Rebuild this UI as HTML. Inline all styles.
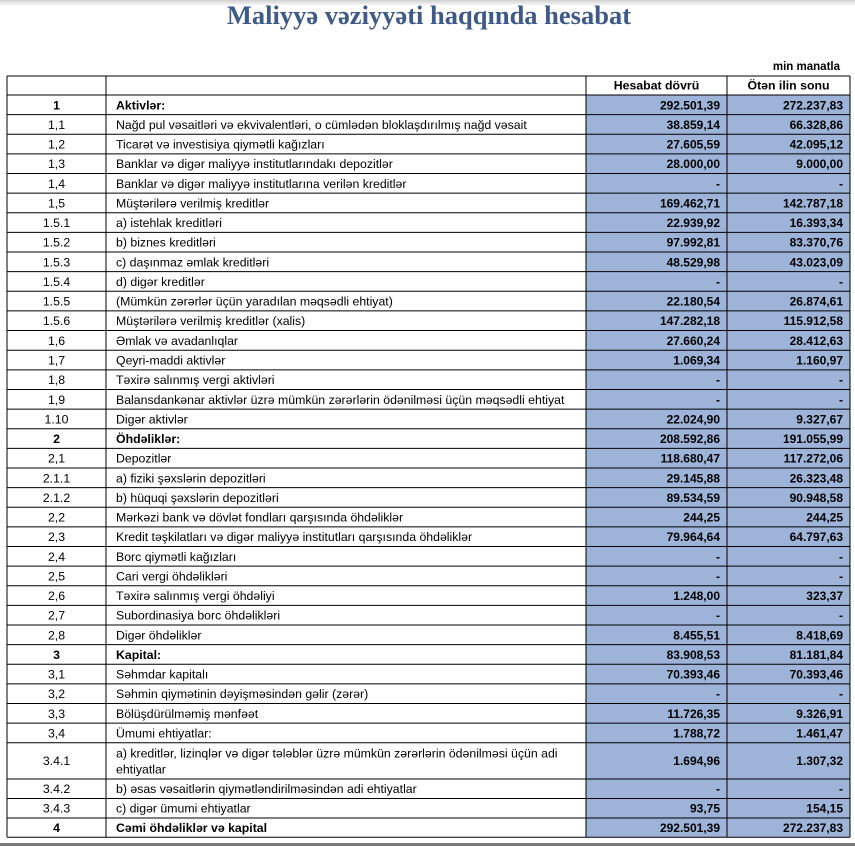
<!DOCTYPE html>
<html>
<head>
<meta charset="utf-8">
<style>
html,body{margin:0;padding:0;background:#fff;}
svg{display:block;}
text{font-family:"Liberation Sans",Arial,sans-serif;font-size:12.3px;fill:#000;}
.c{text-anchor:middle;}
.r{text-anchor:end;font-weight:bold;font-size:12px;}
.b{font-weight:bold;}
.t{font-family:"Liberation Serif","Times New Roman",serif;font-size:26.5px;font-weight:bold;fill:#3f5a88;text-anchor:middle;}
</style>
</head>
<body>
<svg width="855" height="846" viewBox="0 0 855 846" xmlns="http://www.w3.org/2000/svg">
<defs>
<linearGradient id="tg" x1="0" y1="0" x2="0" y2="1">
<stop offset="0" stop-color="#d0d0d0"/>
<stop offset="1" stop-color="#ffffff"/>
</linearGradient>
</defs>
<rect x="0" y="0" width="855" height="846" fill="#fff"/>
<rect x="0" y="0" width="855" height="6" fill="url(#tg)"/>
<text class="t" x="429" y="24">Maliyyə vəziyyəti haqqında hesabat</text>
<text class="r" x="840" y="70" style="font-size:11.5px">min manatla</text>

<rect x="586" y="95" width="264" height="742.3" fill="#9db3d8"/>

<g stroke="#000" stroke-width="1">
<line x1="7" x2="850" y1="76" y2="76"/>
<line x1="7" x2="850" y1="95" y2="95"/>
<line x1="7" x2="850" y1="114.63" y2="114.63"/>
<line x1="7" x2="850" y1="134.26" y2="134.26"/>
<line x1="7" x2="850" y1="153.89" y2="153.89"/>
<line x1="7" x2="850" y1="173.52" y2="173.52"/>
<line x1="7" x2="850" y1="193.15" y2="193.15"/>
<line x1="7" x2="850" y1="212.78" y2="212.78"/>
<line x1="7" x2="850" y1="232.41" y2="232.41"/>
<line x1="7" x2="850" y1="252.04" y2="252.04"/>
<line x1="7" x2="850" y1="271.67" y2="271.67"/>
<line x1="7" x2="850" y1="291.3" y2="291.3"/>
<line x1="7" x2="850" y1="310.93" y2="310.93"/>
<line x1="7" x2="850" y1="330.56" y2="330.56"/>
<line x1="7" x2="850" y1="350.19" y2="350.19"/>
<line x1="7" x2="850" y1="369.82" y2="369.82"/>
<line x1="7" x2="850" y1="389.45" y2="389.45"/>
<line x1="7" x2="850" y1="409.08" y2="409.08"/>
<line x1="7" x2="850" y1="428.71" y2="428.71"/>
<line x1="7" x2="850" y1="448.34" y2="448.34"/>
<line x1="7" x2="850" y1="467.97" y2="467.97"/>
<line x1="7" x2="850" y1="487.6" y2="487.6"/>
<line x1="7" x2="850" y1="507.23" y2="507.23"/>
<line x1="7" x2="850" y1="526.86" y2="526.86"/>
<line x1="7" x2="850" y1="546.49" y2="546.49"/>
<line x1="7" x2="850" y1="566.12" y2="566.12"/>
<line x1="7" x2="850" y1="585.75" y2="585.75"/>
<line x1="7" x2="850" y1="605.38" y2="605.38"/>
<line x1="7" x2="850" y1="625.01" y2="625.01"/>
<line x1="7" x2="850" y1="644.64" y2="644.64"/>
<line x1="7" x2="850" y1="664.27" y2="664.27"/>
<line x1="7" x2="850" y1="683.9" y2="683.9"/>
<line x1="7" x2="850" y1="703.53" y2="703.53"/>
<line x1="7" x2="850" y1="723.16" y2="723.16"/>
<line x1="7" x2="850" y1="742.79" y2="742.79"/>
<line x1="7" x2="850" y1="779" y2="779"/>
<line x1="7" x2="850" y1="798.5" y2="798.5"/>
<line x1="7" x2="850" y1="818" y2="818"/>
<line x1="7" x2="850" y1="837.3" y2="837.3"/>
<line x1="7" x2="7" y1="76" y2="837.3"/>
<line x1="106" x2="106" y1="76" y2="837.3"/>
<line x1="586" x2="586" y1="76" y2="837.3"/>
<line x1="727" x2="727" y1="76" y2="837.3"/>
<line x1="850" x2="850" y1="76" y2="837.3"/>
</g>

<rect x="0" y="843" width="855" height="3" fill="#7a7a7a"/>

<text class="c b" x="656.5" y="89.5">Hesabat dövrü</text>
<text class="c b" x="788.5" y="89.5">Ötən ilin sonu</text>

<g>
<text class="c b" x="56.5" y="109.3">1</text><text class="b" x="116" y="109.3">Aktivlər:</text><text class="r" x="720" y="109.3">292.501,39</text><text class="r" x="843" y="109.3">272.237,83</text>
<text class="c" x="56.5" y="128.9">1,1</text><text x="116" y="128.9">Nağd pul vəsaitləri və  ekvivalentləri, o cümlədən bloklaşdırılmış nağd vəsait</text><text class="r" x="720" y="128.9">38.859,14</text><text class="r" x="843" y="128.9">66.328,86</text>
<text class="c" x="56.5" y="148.6">1,2</text><text x="116" y="148.6">Ticarət və investisiya qiymətli kağızları</text><text class="r" x="720" y="148.6">27.605,59</text><text class="r" x="843" y="148.6">42.095,12</text>
<text class="c" x="56.5" y="168.2">1,3</text><text x="116" y="168.2">Banklar və digər maliyyə institutlarındakı depozitlər</text><text class="r" x="720" y="168.2">28.000,00</text><text class="r" x="843" y="168.2">9.000,00</text>
<text class="c" x="56.5" y="187.8">1,4</text><text x="116" y="187.8">Banklar və digər maliyyə institutlarına verilən kreditlər</text><text class="r" x="720" y="187.8">-</text><text class="r" x="843" y="187.8">-</text>
<text class="c" x="56.5" y="207.5">1,5</text><text x="116" y="207.5">Müştərilərə verilmiş kreditlər</text><text class="r" x="720" y="207.5">169.462,71</text><text class="r" x="843" y="207.5">142.787,18</text>
<text class="c" x="56.5" y="227.1">1.5.1</text><text x="116" y="227.1">a) istehlak kreditləri</text><text class="r" x="720" y="227.1">22.939,92</text><text class="r" x="843" y="227.1">16.393,34</text>
<text class="c" x="56.5" y="246.7">1.5.2</text><text x="116" y="246.7">b) biznes kreditləri</text><text class="r" x="720" y="246.7">97.992,81</text><text class="r" x="843" y="246.7">83.370,76</text>
<text class="c" x="56.5" y="266.3">1.5.3</text><text x="116" y="266.3">c) daşınmaz əmlak kreditləri</text><text class="r" x="720" y="266.3">48.529,98</text><text class="r" x="843" y="266.3">43.023,09</text>
<text class="c" x="56.5" y="286">1.5.4</text><text x="116" y="286">d) digər kreditlər</text><text class="r" x="720" y="286">-</text><text class="r" x="843" y="286">-</text>
<text class="c" x="56.5" y="305.6">1.5.5</text><text x="116" y="305.6">(Mümkün zərərlər üçün yaradılan məqsədli ehtiyat)</text><text class="r" x="720" y="305.6">22.180,54</text><text class="r" x="843" y="305.6">26.874,61</text>
<text class="c" x="56.5" y="325.2">1.5.6</text><text x="116" y="325.2">Müştərilərə verilmiş kreditlər (xalis)</text><text class="r" x="720" y="325.2">147.282,18</text><text class="r" x="843" y="325.2">115.912,58</text>
<text class="c" x="56.5" y="344.9">1,6</text><text x="116" y="344.9">Əmlak və avadanlıqlar</text><text class="r" x="720" y="344.9">27.660,24</text><text class="r" x="843" y="344.9">28.412,63</text>
<text class="c" x="56.5" y="364.5">1,7</text><text x="116" y="364.5">Qeyri-maddi aktivlər</text><text class="r" x="720" y="364.5">1.069,34</text><text class="r" x="843" y="364.5">1.160,97</text>
<text class="c" x="56.5" y="384.1">1,8</text><text x="116" y="384.1">Təxirə salınmış vergi aktivləri</text><text class="r" x="720" y="384.1">-</text><text class="r" x="843" y="384.1">-</text>
<text class="c" x="56.5" y="403.8">1,9</text><text x="116" y="403.8">Balansdankənar aktivlər üzrə mümkün zərərlərin ödənilməsi üçün məqsədli ehtiyat</text><text class="r" x="720" y="403.8">-</text><text class="r" x="843" y="403.8">-</text>
<text class="c" x="56.5" y="423.4">1.10</text><text x="116" y="423.4">Digər aktivlər</text><text class="r" x="720" y="423.4">22.024,90</text><text class="r" x="843" y="423.4">9.327,67</text>
<text class="c b" x="56.5" y="443">2</text><text class="b" x="116" y="443">Öhdəliklər:</text><text class="r" x="720" y="443">208.592,86</text><text class="r" x="843" y="443">191.055,99</text>
<text class="c" x="56.5" y="462.6">2,1</text><text x="116" y="462.6">Depozitlər</text><text class="r" x="720" y="462.6">118.680,47</text><text class="r" x="843" y="462.6">117.272,06</text>
<text class="c" x="56.5" y="482.3">2.1.1</text><text x="116" y="482.3">a) fiziki şəxslərin depozitləri</text><text class="r" x="720" y="482.3">29.145,88</text><text class="r" x="843" y="482.3">26.323,48</text>
<text class="c" x="56.5" y="501.9">2.1.2</text><text x="116" y="501.9">b) hüquqi şəxslərin depozitləri</text><text class="r" x="720" y="501.9">89.534,59</text><text class="r" x="843" y="501.9">90.948,58</text>
<text class="c" x="56.5" y="521.5">2,2</text><text x="116" y="521.5">Mərkəzi bank və dövlət fondları qarşısında öhdəliklər</text><text class="r" x="720" y="521.5">244,25</text><text class="r" x="843" y="521.5">244,25</text>
<text class="c" x="56.5" y="541.2">2,3</text><text x="116" y="541.2">Kredit təşkilatları və digər maliyyə institutları qarşısında öhdəliklər</text><text class="r" x="720" y="541.2">79.964,64</text><text class="r" x="843" y="541.2">64.797,63</text>
<text class="c" x="56.5" y="560.8">2,4</text><text x="116" y="560.8">Borc qiymətli kağızları</text><text class="r" x="720" y="560.8">-</text><text class="r" x="843" y="560.8">-</text>
<text class="c" x="56.5" y="580.4">2,5</text><text x="116" y="580.4">Cari vergi öhdəlikləri</text><text class="r" x="720" y="580.4">-</text><text class="r" x="843" y="580.4">-</text>
<text class="c" x="56.5" y="600.1">2,6</text><text x="116" y="600.1">Təxirə salınmış vergi öhdəliyi</text><text class="r" x="720" y="600.1">1.248,00</text><text class="r" x="843" y="600.1">323,37</text>
<text class="c" x="56.5" y="619.7">2,7</text><text x="116" y="619.7">Subordinasiya borc öhdəlikləri</text><text class="r" x="720" y="619.7">-</text><text class="r" x="843" y="619.7">-</text>
<text class="c" x="56.5" y="639.3">2,8</text><text x="116" y="639.3">Digər öhdəliklər</text><text class="r" x="720" y="639.3">8.455,51</text><text class="r" x="843" y="639.3">8.418,69</text>
<text class="c b" x="56.5" y="658.9">3</text><text class="b" x="116" y="658.9">Kapital:</text><text class="r" x="720" y="658.9">83.908,53</text><text class="r" x="843" y="658.9">81.181,84</text>
<text class="c" x="56.5" y="678.6">3,1</text><text x="116" y="678.6">Səhmdar kapitalı</text><text class="r" x="720" y="678.6">70.393,46</text><text class="r" x="843" y="678.6">70.393,46</text>
<text class="c" x="56.5" y="698.2">3,2</text><text x="116" y="698.2">Səhmin qiymətinin dəyişməsindən gəlir (zərər)</text><text class="r" x="720" y="698.2">-</text><text class="r" x="843" y="698.2">-</text>
<text class="c" x="56.5" y="717.8">3,3</text><text x="116" y="717.8">Bölüşdürülməmiş mənfəət</text><text class="r" x="720" y="717.8">11.726,35</text><text class="r" x="843" y="717.8">9.326,91</text>
<text class="c" x="56.5" y="737.5">3,4</text><text x="116" y="737.5">Ümumi ehtiyatlar:</text><text class="r" x="720" y="737.5">1.788,72</text><text class="r" x="843" y="737.5">1.461,47</text>
<text class="c" x="56.5" y="765">3.4.1</text><text x="116" y="757.5">a) kreditlər, lizinqlər və digər tələblər üzrə mümkün zərərlərin ödənilməsi üçün adi</text><text x="116" y="773.5">ehtiyatlar</text><text class="r" x="720" y="765">1.694,96</text><text class="r" x="843" y="765">1.307,32</text>
<text class="c" x="56.5" y="793.2">3.4.2</text><text x="116" y="793.2">b) əsas vəsaitlərin qiymətləndirilməsindən adi ehtiyatlar</text><text class="r" x="720" y="793.2">-</text><text class="r" x="843" y="793.2">-</text>
<text class="c" x="56.5" y="812.7">3.4.3</text><text x="116" y="812.7">c) digər ümumi ehtiyatlar</text><text class="r" x="720" y="812.7">93,75</text><text class="r" x="843" y="812.7">154,15</text>
<text class="c b" x="56.5" y="832">4</text><text class="b" x="116" y="832">Cəmi öhdəliklər və kapital</text><text class="r" x="720" y="832">292.501,39</text><text class="r" x="843" y="832">272.237,83</text>
</g>
</svg>
</body>
</html>
